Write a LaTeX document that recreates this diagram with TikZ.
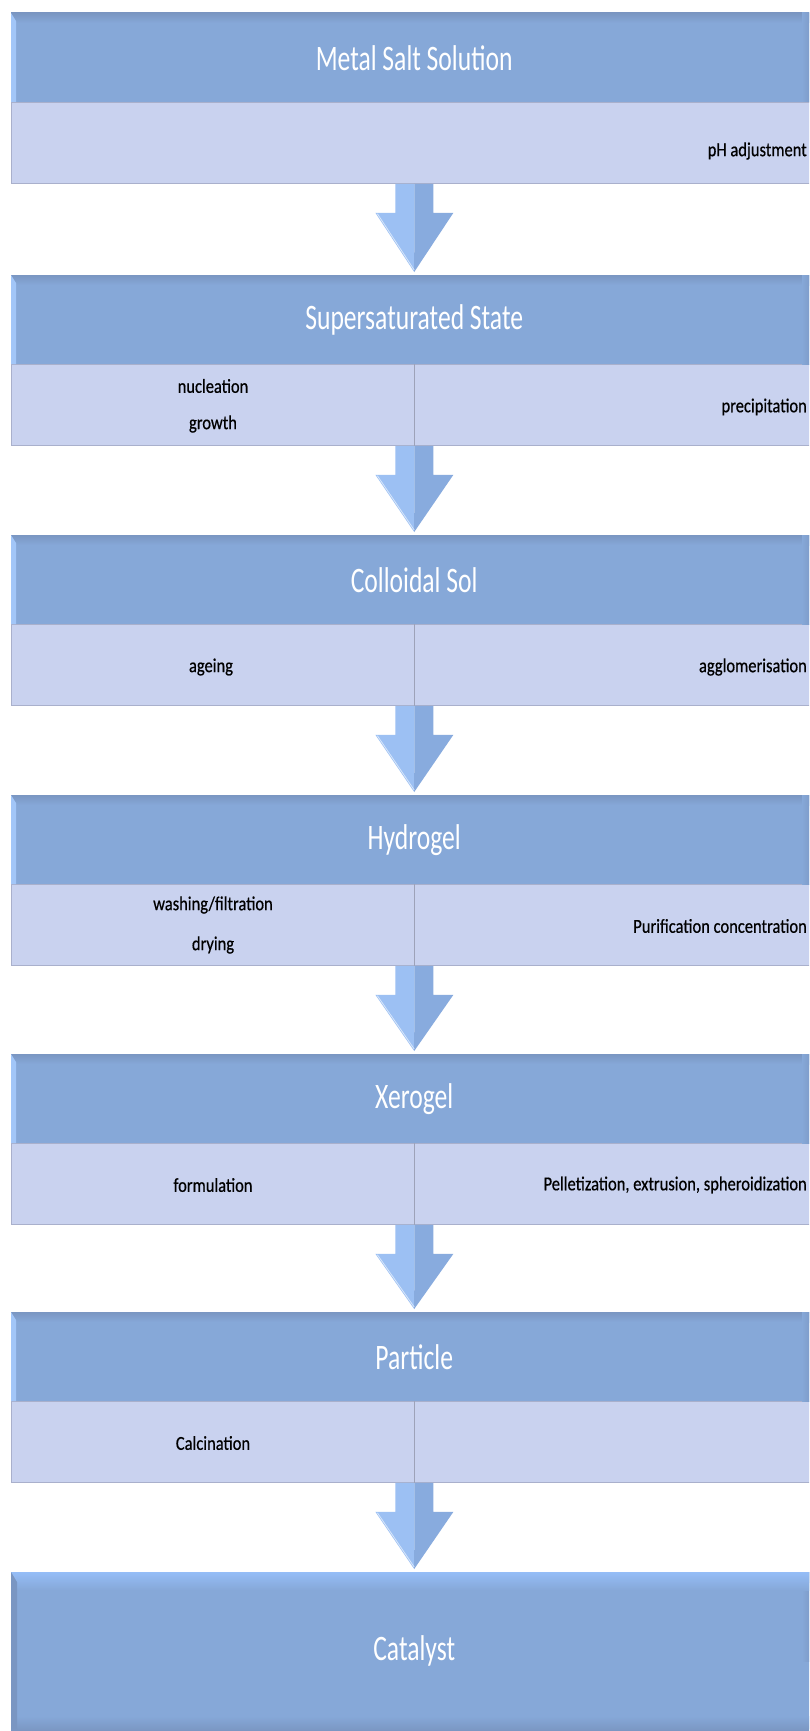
\documentclass[tikz,border=0pt]{standalone}
\usepackage{graphicx}
\usepackage{fontspec}
\setmainfont{Carlito}
\newfontfamily\lblfam{Carlito}[FakeBold=0.6]
\usetikzlibrary{calc}
\definecolor{hdr}{HTML}{86A8D8}
\definecolor{hdrdark}{HTML}{7A96C2}
\definecolor{hdrlight}{HTML}{A2C6F8}
\definecolor{subfill}{HTML}{C9D2EF}
\definecolor{subedge}{HTML}{A9B0CC}
\definecolor{divider}{HTML}{9DA2B8}
\definecolor{arrL}{HTML}{9CC0F3}
\definecolor{arrR}{HTML}{88ABDE}
\definecolor{catlight}{HTML}{95BDF7}
\newcommand\hdrfont{\fontsize{25.6pt}{30pt}\selectfont}
\newcommand\lblfont{\lblfam\fontsize{16.5pt}{20pt}\selectfont}
\newcommand\tallH[1]{\scalebox{1}[1.4]{#1}}
\newcommand\tallL[1]{\scalebox{1}[1.2]{#1}}
\tikzset{
  hdrbox/.style={rectangle, fill=hdr, minimum width=806pt, minimum height=89pt, inner sep=0pt, anchor=north west, text=white, font=\hdrfont},
  subbox/.style={rectangle, fill=subfill, draw=subedge, line width=0.8pt, minimum width=806pt, minimum height=81pt, inner sep=0pt, anchor=north west},
  catbox/.style={rectangle, fill=hdr, minimum width=806pt, minimum height=157pt, inner sep=0pt, anchor=north west, text=white, font=\hdrfont},
  lbl/.style={inner sep=0pt, font=\lblfont, text=black},
  divline/.style={draw=divider, line width=0.8pt},
}
\newcommand\blockarrow[2]{%
  \fill[arrL] ($(#1.south)+(-19,0)$) -- ($(#1.south)+(0,0)$) -- ($(#2.north)+(0,-3)$) -- ($(#1.south)+(-39,29)$) -- ($(#1.south)+(-19,29)$) -- cycle;
  \fill[arrR] ($(#1.south)+(19,0)$) -- ($(#1.south)+(0,0)$) -- ($(#2.north)+(0,-3)$) -- ($(#1.south)+(39,29)$) -- ($(#1.south)+(19,29)$) -- cycle;
  \draw[white!60!arrL, line width=0.8pt] ($(#1.south)+(-37,30)$) -- ($(#2.north)+(0,-5)$);
}
\begin{document}
\begin{tikzpicture}[x=1pt,y=-1pt]
\useasboundingbox (0,0) rectangle (809,1731);
\fill[white] (0,0) rectangle (809,1731);
\clip (0,0) rectangle (809,1731);

% headers
\node[hdrbox] (h1) at (11,13)   {\tallH{Metal Salt Solution}};
\node[subbox] (s1) at (11,102)  {};
\node[hdrbox] (h2) at (11,275)  {\tallH{Supersaturated State}};
\node[subbox] (s2) at (11,364)  {};
\node[hdrbox] (h3) at (11,535)  {\tallH{Colloidal Sol}};
\node[subbox] (s3) at (11,624)  {};
\node[hdrbox] (h4) at (11,795)  {\tallH{Hydrogel}};
\node[subbox] (s4) at (11,884)  {};
\node[hdrbox] (h5) at (11,1054) {\tallH{Xerogel}};
\node[subbox] (s5) at (11,1143) {};
\node[hdrbox] (h6) at (11,1312) {\tallH{Particle}};
\node[subbox] (s6) at (11,1401) {};
\node[catbox] (cat) at (11,1572) {\tallH{Catalyst}};

% header decorations: darker top band, light left bevel
\foreach \t in {13,275,535,795,1054,1312,1572}{
  \shade[top color=hdrdark, bottom color=hdr] (11,\t) rectangle (817,\t+10);
  \shade[left color=hdr, right color=hdrdark!60!hdr] (802,\t) rectangle (809,\t+89);
}
\foreach \t in {13,275,535,795,1054,1312}{
  \fill[hdrlight] (11,\t) -- (16,\t+8) -- (16,\t+89) -- (11,\t+89) -- cycle;
}
\shade[top color=catlight, bottom color=hdr] (11,1572) rectangle (817,1590);
\shade[top color=hdr, bottom color=hdrdark] (11,1716) rectangle (817,1731);
\fill[hdrdark] (11,1572) -- (17,1582) -- (17,1729) -- (11,1729) -- cycle;

% dividers
\foreach \s in {s2,s3,s4,s5,s6}{
  \draw[divline] (\s.north) -- (\s.south);
}

% arrows
\blockarrow{s1}{h2}
\blockarrow{s2}{h3}
\blockarrow{s3}{h4}
\blockarrow{s4}{h5}
\blockarrow{s5}{h6}
\blockarrow{s6}{cat}

% labels
\node[lbl, anchor=east] (l1r) at (807,151) {\tallL{pH adjustment}};

\node[lbl] (l2a) at (213,386) {\tallL{nucleation}};
\node[lbl] (l2b) at (213,424) {\tallL{growth}};
\node[lbl, anchor=east] (l2r) at (807,407) {\tallL{precipitation}};

\node[lbl] (l3a) at (211,667) {\tallL{ageing}};
\node[lbl, anchor=east] (l3r) at (807,667) {\tallL{agglomerisation}};

\node[lbl] (l4a) at (213,905) {\tallL{washing/filtration}};
\node[lbl] (l4b) at (213,945) {\tallL{drying}};
\node[lbl, anchor=east] (l4r) at (807,926) {\tallL{Purification concentration}};

\node[lbl] (l5a) at (213,1185) {\tallL{formulation}};
\node[lbl, anchor=east] (l5r) at (807,1185) {\tallL{Pelletization, extrusion, spheroidization}};

\node[lbl] (l6a) at (213,1443) {\tallL{Calcination}};
\end{tikzpicture}
\end{document}
